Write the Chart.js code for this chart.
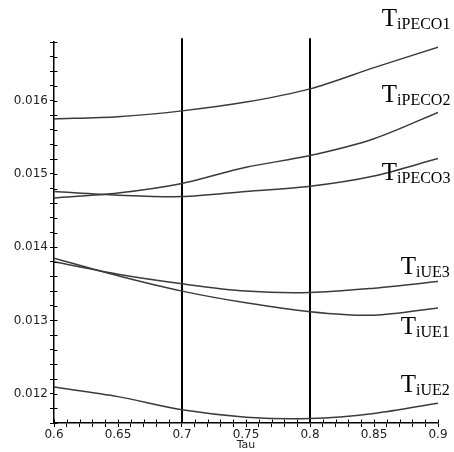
<!DOCTYPE html>
<html>
<head>
<meta charset="utf-8">
<script src="https://cdn.jsdelivr.net/npm/chart.js@4/dist/chart.umd.min.js"></script>
<style>
  html, body { margin: 0; padding: 0; background: #fff; }
  #wrap { width: 454px; height: 452px; position: relative; }
</style>
</head>
<body>
<div id="wrap"><canvas id="c" width="454" height="452"></canvas></div>
<script>
// ---- data ----
const tau = [0.6, 0.65, 0.7, 0.75, 0.8, 0.85, 0.9];
const tPECO1 = [0.01575, 0.01578, 0.01586, 0.01598, 0.01616, 0.01645, 0.01673];
const tPECO2 = [0.01467, 0.01474, 0.01487, 0.01509, 0.01525, 0.01548, 0.01584];
const tPECO3 = [0.01476, 0.01471, 0.01469, 0.01476, 0.01483, 0.01497, 0.01521];
const tUE1   = [0.01385, 0.01361, 0.01340, 0.01324, 0.01312, 0.01307, 0.01317];
const tUE3   = [0.01380, 0.01363, 0.01350, 0.01340, 0.01338, 0.01344, 0.01353];
const tUE2   = [0.01209, 0.01196, 0.01178, 0.01168, 0.01166, 0.01173, 0.01187];
const markerTau = [0.7, 0.8];
const yMin = 0.0116, yMax = 0.0168;
const xMin = 0.6, xMax = 0.9;
// curve labels: subscript text, anchor (tau, value) of the big "T" baseline-left
const labelSubs = ['iPECO1', 'iPECO2', 'iPECO3', 'iUE3', 'iUE1', 'iUE2'];
const labelTau  = [0.8561, 0.8561, 0.8561, 0.8709, 0.8709, 0.8709];
const labelVal  = [0.017021, 0.015986, 0.014916, 0.013640, 0.012820, 0.012022];

const series = [tPECO1, tPECO2, tPECO3, tUE1, tUE3, tUE2];
const toPts = (ys) => ys.map((y, i) => ({ x: tau[i], y }));

const datasets = series.map(s => ({
  data: toPts(s),
  borderColor: '#3a3a3a',
  borderWidth: 1.5,
  pointRadius: 0,
  tension: 0.3,
  fill: false
}));
markerTau.forEach(t => datasets.push({
  data: [{ x: t, y: yMin }, { x: t, y: 0.01685 }],
  borderColor: '#000',
  borderWidth: 2,
  pointRadius: 0,
  tension: 0,
  clip: false,
  fill: false
}));

const decoPlugin = {
  id: 'deco',
  afterDraw(chart) {
    const ctx = chart.ctx;
    const xs = chart.scales.x, ys = chart.scales.y;
    const area = chart.chartArea;
    ctx.save();
    ctx.strokeStyle = '#000';
    ctx.lineWidth = 1;
    // inner halves of the tick marks (they cross the axes)
    ys.ticks.forEach(t => {
      const py = Math.round(ys.getPixelForValue(t.value)) + 0.5;
      ctx.beginPath(); ctx.moveTo(area.left, py); ctx.lineTo(area.left + 3.5, py); ctx.stroke();
    });
    xs.ticks.forEach(t => {
      const px = Math.round(xs.getPixelForValue(t.value)) + 0.5;
      ctx.beginPath(); ctx.moveTo(px, area.bottom); ctx.lineTo(px, area.bottom - 3.5); ctx.stroke();
    });
    // curve labels
    ctx.fillStyle = '#000';
    ctx.textBaseline = 'alphabetic';
    ctx.textAlign = 'left';
    labelSubs.forEach((sub, i) => {
      const px = xs.getPixelForValue(labelTau[i]);
      const py = ys.getPixelForValue(labelVal[i]);
      ctx.font = '25px "Liberation Serif", "Times New Roman", serif';
      ctx.fillText('T', px, py);
      const w = ctx.measureText('T').width;
      ctx.font = '16px "Liberation Serif", "Times New Roman", serif';
      ctx.fillText(sub, px + w, py + 3);
    });
    ctx.restore();
  }
};

new Chart(document.getElementById('c'), {
  type: 'line',
  data: { datasets },
  options: {
    responsive: false,
    animation: false,
    events: [],
    layout: { padding: { top: 42, right: 16, left: 0, bottom: 0 } },
    plugins: { legend: { display: false }, tooltip: { enabled: false } },
    scales: {
      x: {
        type: 'linear',
        min: xMin, max: xMax,
        afterFit(s) { s.height = 29; },
        grid: { display: true, drawOnChartArea: false, drawTicks: true, tickLength: 4, color: '#000', lineWidth: 1 },
        border: { display: true, color: '#000', width: 1.5 },
        ticks: {
          stepSize: 0.01,
          autoSkip: false,
          maxRotation: 0,
          padding: 1,
          color: '#222',
          font: { family: '"DejaVu Sans", sans-serif', size: 12 },
          callback(v) {
            const k = Math.round(v * 100);
            return (k % 5 === 0) ? String(Number((k / 100).toFixed(2))) : '';
          }
        },
        title: {
          display: true, text: 'Tau', color: '#222',
          padding: { top: 0, bottom: 0 },
          font: { family: '"DejaVu Sans", sans-serif', size: 11 }
        }
      },
      y: {
        type: 'linear',
        min: yMin, max: yMax,
        afterFit(s) { s.width = 54; },
        grid: { display: true, drawOnChartArea: false, drawTicks: true, tickLength: 4, color: '#000', lineWidth: 1 },
        border: { display: true, color: '#000', width: 1.5 },
        ticks: {
          stepSize: 0.0002,
          autoSkip: false,
          padding: 2,
          color: '#222',
          font: { family: '"DejaVu Sans", sans-serif', size: 12 },
          callback(v) {
            const k = Math.round(v * 10000);
            return (k % 10 === 0) ? (k / 10000).toFixed(3) : '';
          }
        }
      }
    }
  },
  plugins: [decoPlugin]
});
</script>
</body>
</html>
